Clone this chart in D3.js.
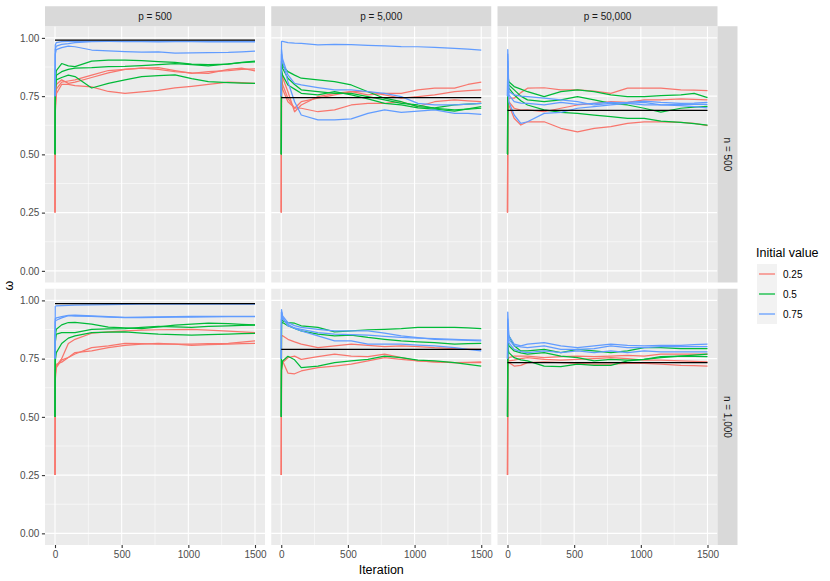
<!DOCTYPE html>
<html>
<head>
<meta charset="utf-8">
<script src="https://cdn.jsdelivr.net/npm/d3@7"></script>
<style>
  body { margin: 0; background: #fff; }
  text { font-family: "Liberation Sans", Arial, sans-serif; }
</style>
</head>
<body>
<svg id="chart" width="830" height="581"></svg>
<script>
const iterations = [0, 2, 10, 50, 100, 150, 275, 400, 525, 650, 775, 900, 1025, 1150, 1300, 1400, 1500];
const initValues = [0.25, 0.5, 0.75];
const pLabels = ["p = 500", "p = 5,000", "p = 50,000"];
const nLabels = ["n = 500", "n = 1,000"];
const xTicks = [0, 500, 1000, 1500];
const yTicks = [0, 0.25, 0.5, 0.75, 1];
// true omega per panel (row-major: n=500 then n=1,000)
const trueOmega = [0.99, 0.744, 0.689, 0.986, 0.79, 0.733];

// 9 traces per panel: three chains per initial value (0.25, 0.5, 0.75)
const n500_p500 = [
  [0.25, 0.70, 0.78, 0.81, 0.815, 0.82, 0.84, 0.86, 0.865, 0.87, 0.865, 0.855, 0.85, 0.848, 0.865, 0.87, 0.858],
  [0.25, 0.72, 0.80, 0.82, 0.805, 0.81, 0.83, 0.85, 0.865, 0.87, 0.872, 0.86, 0.848, 0.855, 0.86, 0.865, 0.867],
  [0.25, 0.68, 0.76, 0.80, 0.80, 0.795, 0.79, 0.77, 0.762, 0.768, 0.775, 0.785, 0.792, 0.80, 0.81, 0.808, 0.805],
  [0.50, 0.80, 0.86, 0.89, 0.88, 0.877, 0.90, 0.905, 0.905, 0.902, 0.898, 0.895, 0.887, 0.885, 0.887, 0.895, 0.90],
  [0.50, 0.78, 0.84, 0.855, 0.865, 0.87, 0.872, 0.877, 0.878, 0.881, 0.885, 0.89, 0.885, 0.88, 0.888, 0.894, 0.897],
  [0.50, 0.76, 0.82, 0.83, 0.84, 0.834, 0.785, 0.805, 0.82, 0.834, 0.838, 0.841, 0.825, 0.812, 0.808, 0.806, 0.805],
  [0.75, 0.97, 0.98, 0.984, 0.985, 0.985, 0.985, 0.985, 0.984, 0.984, 0.983, 0.984, 0.984, 0.983, 0.983, 0.983, 0.983],
  [0.75, 0.95, 0.965, 0.972, 0.975, 0.98, 0.984, 0.985, 0.985, 0.985, 0.985, 0.985, 0.985, 0.985, 0.985, 0.985, 0.985],
  [0.75, 0.93, 0.95, 0.958, 0.965, 0.962, 0.948, 0.944, 0.941, 0.939, 0.94, 0.935, 0.936, 0.937, 0.938, 0.94, 0.943]
];
const n500_p5000 = [
  [0.25, 0.85, 0.83, 0.769, 0.683, 0.712, 0.748, 0.762, 0.769, 0.755, 0.762, 0.762, 0.777, 0.784, 0.784, 0.80, 0.81],
  [0.25, 0.83, 0.80, 0.741, 0.698, 0.726, 0.741, 0.755, 0.769, 0.769, 0.755, 0.741, 0.748, 0.755, 0.769, 0.774, 0.777],
  [0.25, 0.80, 0.78, 0.726, 0.70, 0.698, 0.683, 0.691, 0.712, 0.719, 0.719, 0.726, 0.705, 0.726, 0.734, 0.730, 0.726],
  [0.50, 0.90, 0.88, 0.855, 0.84, 0.827, 0.82, 0.812, 0.798, 0.769, 0.741, 0.726, 0.705, 0.700, 0.712, 0.716, 0.719],
  [0.50, 0.88, 0.87, 0.827, 0.80, 0.777, 0.769, 0.762, 0.762, 0.748, 0.734, 0.719, 0.712, 0.698, 0.691, 0.694, 0.698],
  [0.50, 0.86, 0.84, 0.798, 0.78, 0.762, 0.755, 0.769, 0.755, 0.738, 0.719, 0.712, 0.700, 0.694, 0.686, 0.695, 0.705],
  [0.75, 0.985, 0.985, 0.98, 0.978, 0.977, 0.97, 0.972, 0.971, 0.968, 0.966, 0.963, 0.962, 0.959, 0.955, 0.952, 0.948],
  [0.75, 0.93, 0.90, 0.812, 0.726, 0.669, 0.648, 0.648, 0.652, 0.676, 0.691, 0.680, 0.686, 0.691, 0.676, 0.676, 0.672],
  [0.75, 0.95, 0.91, 0.841, 0.805, 0.798, 0.787, 0.777, 0.777, 0.769, 0.762, 0.748, 0.719, 0.712, 0.712, 0.716, 0.719]
];
const n500_p50000 = [
  [0.25, 0.70, 0.741, 0.741, 0.765, 0.784, 0.786, 0.777, 0.777, 0.772, 0.762, 0.784, 0.784, 0.784, 0.777, 0.776, 0.774],
  [0.25, 0.68, 0.712, 0.655, 0.626, 0.640, 0.640, 0.612, 0.597, 0.612, 0.619, 0.633, 0.640, 0.640, 0.637, 0.633, 0.623],
  [0.25, 0.66, 0.726, 0.698, 0.69, 0.691, 0.683, 0.698, 0.712, 0.719, 0.726, 0.723, 0.734, 0.734, 0.738, 0.736, 0.734],
  [0.50, 0.84, 0.812, 0.791, 0.78, 0.769, 0.748, 0.769, 0.777, 0.769, 0.755, 0.748, 0.748, 0.752, 0.755, 0.762, 0.744],
  [0.50, 0.82, 0.798, 0.777, 0.75, 0.734, 0.726, 0.734, 0.748, 0.734, 0.719, 0.712, 0.698, 0.681, 0.698, 0.703, 0.706],
  [0.50, 0.80, 0.784, 0.755, 0.73, 0.712, 0.691, 0.68, 0.676, 0.669, 0.662, 0.655, 0.655, 0.643, 0.637, 0.632, 0.626],
  [0.75, 0.95, 0.77, 0.755, 0.75, 0.748, 0.741, 0.734, 0.726, 0.712, 0.719, 0.723, 0.729, 0.723, 0.719, 0.72, 0.723],
  [0.75, 0.93, 0.755, 0.726, 0.72, 0.719, 0.712, 0.723, 0.715, 0.719, 0.723, 0.719, 0.712, 0.712, 0.715, 0.716, 0.715],
  [0.75, 0.90, 0.726, 0.669, 0.633, 0.640, 0.676, 0.680, 0.698, 0.705, 0.712, 0.719, 0.723, 0.712, 0.709, 0.705, 0.70]
];
const n1000_p500 = [
  [0.25, 0.68, 0.718, 0.75, 0.815, 0.833, 0.859, 0.865, 0.869, 0.872, 0.874, 0.875, 0.876, 0.872, 0.868, 0.865, 0.862],
  [0.25, 0.66, 0.711, 0.745, 0.755, 0.77, 0.797, 0.805, 0.816, 0.814, 0.812, 0.812, 0.812, 0.814, 0.816, 0.821, 0.826],
  [0.25, 0.70, 0.726, 0.735, 0.755, 0.776, 0.783, 0.797, 0.807, 0.812, 0.816, 0.812, 0.807, 0.810, 0.812, 0.814, 0.816],
  [0.50, 0.85, 0.876, 0.895, 0.905, 0.906, 0.898, 0.885, 0.882, 0.879, 0.886, 0.894, 0.898, 0.902, 0.90, 0.897, 0.895],
  [0.50, 0.82, 0.855, 0.862, 0.862, 0.862, 0.876, 0.878, 0.879, 0.884, 0.888, 0.886, 0.884, 0.888, 0.891, 0.893, 0.894],
  [0.50, 0.74, 0.776, 0.815, 0.838, 0.848, 0.862, 0.864, 0.865, 0.86, 0.855, 0.853, 0.851, 0.853, 0.855, 0.857, 0.858],
  [0.75, 0.975, 0.977, 0.978, 0.979, 0.98, 0.981, 0.982, 0.983, 0.984, 0.984, 0.984, 0.984, 0.984, 0.984, 0.984, 0.984],
  [0.75, 0.92, 0.925, 0.93, 0.936, 0.937, 0.934, 0.930, 0.927, 0.928, 0.929, 0.930, 0.931, 0.931, 0.931, 0.931, 0.931],
  [0.75, 0.91, 0.915, 0.925, 0.935, 0.932, 0.931, 0.928, 0.926, 0.926, 0.927, 0.928, 0.928, 0.929, 0.930, 0.930, 0.930]
];
const n1000_p5000 = [
  [0.25, 0.85, 0.848, 0.833, 0.822, 0.812, 0.797, 0.805, 0.812, 0.807, 0.802, 0.805, 0.802, 0.797, 0.793, 0.791, 0.790],
  [0.25, 0.72, 0.74, 0.688, 0.685, 0.697, 0.711, 0.718, 0.726, 0.740, 0.754, 0.747, 0.740, 0.736, 0.733, 0.734, 0.736],
  [0.25, 0.70, 0.733, 0.754, 0.761, 0.747, 0.759, 0.769, 0.761, 0.759, 0.769, 0.754, 0.740, 0.736, 0.733, 0.733, 0.733],
  [0.50, 0.92, 0.912, 0.905, 0.902, 0.891, 0.884, 0.865, 0.869, 0.874, 0.876, 0.879, 0.884, 0.884, 0.884, 0.882, 0.879],
  [0.50, 0.90, 0.905, 0.891, 0.88, 0.869, 0.855, 0.848, 0.851, 0.841, 0.833, 0.826, 0.822, 0.819, 0.812, 0.814, 0.816],
  [0.50, 0.70, 0.74, 0.76, 0.745, 0.711, 0.718, 0.733, 0.740, 0.747, 0.761, 0.754, 0.744, 0.740, 0.733, 0.725, 0.718],
  [0.75, 0.96, 0.934, 0.905, 0.892, 0.884, 0.876, 0.869, 0.869, 0.869, 0.86, 0.848, 0.84, 0.833, 0.83, 0.828, 0.826],
  [0.75, 0.95, 0.92, 0.898, 0.88, 0.869, 0.848, 0.826, 0.826, 0.812, 0.812, 0.812, 0.808, 0.805, 0.797, 0.79, 0.783],
  [0.75, 0.95, 0.927, 0.891, 0.882, 0.876, 0.862, 0.855, 0.853, 0.851, 0.846, 0.841, 0.838, 0.836, 0.833, 0.831, 0.830]
];
const n1000_p50000 = [
  [0.25, 0.74, 0.754, 0.761, 0.761, 0.761, 0.754, 0.759, 0.761, 0.759, 0.761, 0.764, 0.761, 0.769, 0.769, 0.769, 0.769],
  [0.25, 0.72, 0.733, 0.718, 0.721, 0.733, 0.736, 0.733, 0.730, 0.726, 0.726, 0.730, 0.730, 0.726, 0.721, 0.72, 0.718],
  [0.25, 0.73, 0.740, 0.744, 0.75, 0.754, 0.747, 0.744, 0.747, 0.750, 0.754, 0.750, 0.744, 0.744, 0.740, 0.738, 0.736],
  [0.50, 0.86, 0.848, 0.805, 0.783, 0.783, 0.790, 0.776, 0.790, 0.783, 0.776, 0.783, 0.797, 0.797, 0.793, 0.793, 0.793],
  [0.50, 0.84, 0.805, 0.783, 0.775, 0.769, 0.776, 0.761, 0.754, 0.740, 0.747, 0.744, 0.747, 0.759, 0.761, 0.76, 0.759],
  [0.50, 0.80, 0.776, 0.754, 0.745, 0.740, 0.718, 0.716, 0.726, 0.721, 0.721, 0.740, 0.747, 0.754, 0.761, 0.765, 0.769],
  [0.75, 0.95, 0.848, 0.812, 0.805, 0.812, 0.819, 0.805, 0.797, 0.805, 0.812, 0.807, 0.805, 0.807, 0.807, 0.81, 0.812],
  [0.75, 0.92, 0.833, 0.805, 0.80, 0.797, 0.805, 0.790, 0.790, 0.793, 0.805, 0.797, 0.797, 0.802, 0.802, 0.802, 0.802],
  [0.75, 0.90, 0.819, 0.790, 0.78, 0.776, 0.783, 0.776, 0.783, 0.776, 0.783, 0.776, 0.783, 0.779, 0.779, 0.779, 0.779]
];
const seriesInit = [0.25, 0.25, 0.25, 0.5, 0.5, 0.5, 0.75, 0.75, 0.75];

const panels = [
  [n500_p500, n500_p5000, n500_p50000],
  [n1000_p500, n1000_p5000, n1000_p50000]
];

const svg = d3.select("#chart");
const marginLeft = 45, marginTop = 26.25;
const panelW = 220, panelH = 256.25, gap = 6.25, stripH = 20;

const color = d3.scaleOrdinal()
  .domain(initValues)
  .range(["#F8766D", "#00BA38", "#619CFF"]);

const x = d3.scaleLinear().domain([-75, 1575]).range([0, panelW]);
const y = d3.scaleLinear().domain([-0.05, 1.05]).range([panelH, 0]);

const line = d3.line()
  .x((d, i) => x(iterations[i]))
  .y(d => y(d));

panels.forEach((row, r) => {
  row.forEach((traces, c) => {
    const px = marginLeft + c * (panelW + gap);
    const py = marginTop + r * (panelH + gap);
    const g = svg.append("g").attr("transform", `translate(${px},${py})`);

    g.append("rect")
      .attr("width", panelW).attr("height", panelH)
      .attr("fill", "#EBEBEB");

    // minor grid
    g.selectAll(".vminor").data([250, 750, 1250]).enter().append("line")
      .attr("x1", d => x(d)).attr("x2", d => x(d))
      .attr("y1", 0).attr("y2", panelH)
      .attr("stroke", "#fff").attr("stroke-width", 0.55);
    g.selectAll(".hminor").data([0.125, 0.375, 0.625, 0.875]).enter().append("line")
      .attr("x1", 0).attr("x2", panelW)
      .attr("y1", d => y(d)).attr("y2", d => y(d))
      .attr("stroke", "#fff").attr("stroke-width", 0.55);
    // major grid
    g.selectAll(".vmajor").data(xTicks).enter().append("line")
      .attr("x1", d => x(d)).attr("x2", d => x(d))
      .attr("y1", 0).attr("y2", panelH)
      .attr("stroke", "#fff").attr("stroke-width", 1.1);
    g.selectAll(".hmajor").data(yTicks).enter().append("line")
      .attr("x1", 0).attr("x2", panelW)
      .attr("y1", d => y(d)).attr("y2", d => y(d))
      .attr("stroke", "#fff").attr("stroke-width", 1.1);

    // traces
    g.selectAll(".trace").data(traces).enter().append("path")
      .attr("d", d => line(d))
      .attr("fill", "none")
      .attr("stroke", (d, i) => color(seriesInit[i]))
      .attr("stroke-width", 1.25)
      .attr("stroke-linejoin", "round");

    // true value
    const t = trueOmega[r * 3 + c];
    g.append("line")
      .attr("x1", x(0)).attr("x2", x(1500))
      .attr("y1", y(t)).attr("y2", y(t))
      .attr("stroke", "#000").attr("stroke-width", 1.25);

    // y axis on the first column
    if (c === 0) {
      g.append("g")
        .call(d3.axisLeft(y).tickValues(yTicks).tickFormat(d3.format(".2f")).tickSize(3.1).tickPadding(2.5))
        .call(a => a.select(".domain").remove())
        .call(a => a.selectAll("line").attr("stroke", "#333333").attr("stroke-width", 1.1))
        .call(a => a.selectAll("text").attr("fill", "#4D4D4D").attr("font-size", "10px")
          .attr("font-family", "Liberation Sans, Arial, sans-serif"));
    }
    // x axis on the bottom row
    if (r === 1) {
      g.append("g")
        .attr("transform", `translate(0,${panelH})`)
        .call(d3.axisBottom(x).tickValues(xTicks).tickFormat(d3.format("d")).tickSize(3.1).tickPadding(2.5))
        .call(a => a.select(".domain").remove())
        .call(a => a.selectAll("line").attr("stroke", "#333333").attr("stroke-width", 1.1))
        .call(a => a.selectAll("text").attr("fill", "#4D4D4D").attr("font-size", "10px")
          .attr("font-family", "Liberation Sans, Arial, sans-serif"));
    }
  });
});

// top strips
pLabels.forEach((lab, c) => {
  const px = marginLeft + c * (panelW + gap);
  svg.append("rect")
    .attr("x", px).attr("y", marginTop - stripH)
    .attr("width", panelW).attr("height", stripH)
    .attr("fill", "#D9D9D9");
  svg.append("text")
    .attr("x", px + panelW / 2).attr("y", marginTop - stripH / 2)
    .attr("dy", "0.35em")
    .attr("text-anchor", "middle")
    .attr("font-size", "10px")
    .attr("fill", "#1A1A1A")
    .text(lab);
});

// right strips
const stripX = marginLeft + 3 * panelW + 2 * gap;
nLabels.forEach((lab, r) => {
  const py = marginTop + r * (panelH + gap);
  svg.append("rect")
    .attr("x", stripX).attr("y", py)
    .attr("width", stripH).attr("height", panelH)
    .attr("fill", "#D9D9D9");
  svg.append("text")
    .attr("transform", `translate(${stripX + stripH / 2},${py + panelH / 2}) rotate(90)`)
    .attr("dy", "0.35em")
    .attr("text-anchor", "middle")
    .attr("font-size", "10px")
    .attr("fill", "#1A1A1A")
    .text(lab);
});

// axis titles
const plotBottom = marginTop + 2 * panelH + gap;
svg.append("text")
  .attr("x", marginLeft + (3 * panelW + 2 * gap) / 2)
  .attr("y", 574)
  .attr("text-anchor", "middle")
  .attr("font-size", "12.5px")
  .attr("fill", "#000")
  .text("Iteration");
svg.append("text")
  .attr("transform", `translate(13,${(marginTop + plotBottom) / 2}) rotate(-90)`)
  .attr("text-anchor", "middle")
  .attr("font-size", "12.5px")
  .attr("fill", "#000")
  .text("ω");

// legend
const lg = svg.append("g").attr("transform", "translate(756,245)");
lg.append("text")
  .attr("x", 0).attr("y", 12)
  .attr("font-size", "12.5px")
  .attr("fill", "#000")
  .text("Initial value");
initValues.forEach((v, i) => {
  const ky = 19 + i * 20;
  lg.append("rect")
    .attr("x", 1).attr("y", ky)
    .attr("width", 20).attr("height", 20)
    .attr("fill", "#F2F2F2");
  lg.append("line")
    .attr("x1", 3).attr("x2", 19)
    .attr("y1", ky + 10).attr("y2", ky + 10)
    .attr("stroke", color(v)).attr("stroke-width", 1.25);
  lg.append("text")
    .attr("x", 27).attr("y", ky + 10)
    .attr("dy", "0.35em")
    .attr("font-size", "10px")
    .attr("fill", "#000")
    .text(String(v));
});
</script>
</body>
</html>
